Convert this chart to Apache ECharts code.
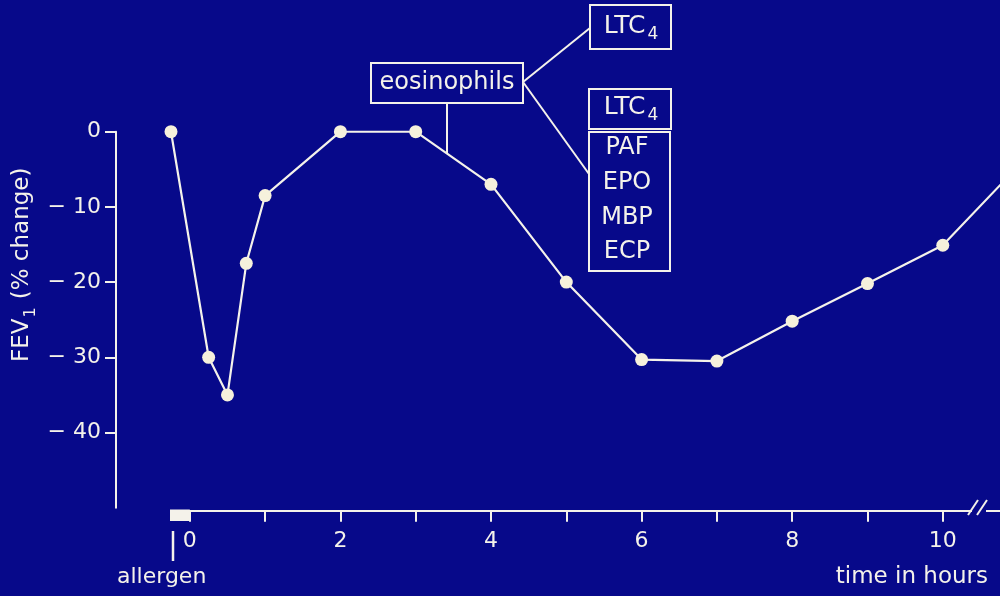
<!DOCTYPE html>
<html><head><meta charset="utf-8">
<script src="https://cdn.jsdelivr.net/npm/echarts@6/dist/echarts.min.js"></script>
<style>html,body{margin:0;padding:0;background:#07098a;}#c{width:1000px;height:596px;}</style>
</head><body><div id="c"></div>
<script>
// ---- data ----
const hours = [-0.25, 0.25, 0.5, 0.75, 1, 2, 3, 4, 5, 6, 7, 8, 9, 10, 11];
const fev1Change = [0, -30, -35, -17.5, -8.5, 0, 0, -7, -20, -30.3, -30.5, -25.2, -20.2, -15.1, -4.6];
const xTickValues = [0, 1, 2, 3, 4, 5, 6, 7, 8, 9, 10];
const xLabelValues = [0, 2, 4, 6, 8, 10];
const yTickValues = [0, -10, -20, -30, -40];
const allergenPeriod = [-0.25, 0];
const mediatorsTop = ['LTC', '4'];
const mediatorsList = ['PAF', 'EPO', 'MBP', 'ECP'];

const BG = '#07098a';
const FG = '#f4f2ea';
const FONT = '"DejaVu Sans", sans-serif';

const chart = echarts.init(document.getElementById('c'), null, {renderer: 'canvas'});

const seriesData = hours.map((h, i) => [h, fev1Change[i]]);

chart.setOption({
  backgroundColor: BG,
  animation: false,
  grid: {left: 171, right: 0, top: 131.7, bottom: 88.3, containLabel: false},
  xAxis: {
    type: 'value', min: -0.25, max: 10.76, offset: 3,
    axisLine: {onZero: false, lineStyle: {color: FG, width: 2}},
    axisTick: {show: true, length: 11, lineStyle: {color: FG, width: 2}, customValues: xTickValues},
    axisLabel: {color: FG, fontSize: 22, fontFamily: FONT, margin: 20, customValues: xLabelValues},
    splitLine: {show: false}
  },
  yAxis: {
    type: 'value', min: -50, max: 0, offset: 55,
    axisLine: {show: true, onZero: false, lineStyle: {color: FG, width: 2}},
    axisTick: {show: true, length: 11, lineStyle: {color: FG, width: 2}, customValues: yTickValues},
    axisLabel: {color: FG, fontSize: 22, fontFamily: FONT, margin: 15, customValues: yTickValues,
      formatter: v => v === 0 ? '0' : '\u2212 ' + Math.abs(v)},
    splitLine: {show: false}
  },
  series: [{
    type: 'line', data: seriesData, clip: true,
    symbol: 'circle', symbolSize: 13,
    lineStyle: {color: FG, width: 2.2},
    itemStyle: {color: '#f6f1dc', borderWidth: 0}
  }]
});

// ---- annotations ----
const ctx = document.createElement('canvas').getContext('2d');
function tw(text, size) { ctx.font = size + 'px ' + FONT; return ctx.measureText(text).width; }

// anchor on the curve under the eosinophils box
const anchorX = 447;
let anchorY = 152;
for (let i = 0; i < seriesData.length - 1; i++) {
  const a = chart.convertToPixel({seriesIndex: 0}, seriesData[i]);
  const b = chart.convertToPixel({seriesIndex: 0}, seriesData[i + 1]);
  if (a[0] <= anchorX && b[0] >= anchorX) { anchorY = a[1] + (b[1] - a[1]) * (anchorX - a[0]) / (b[0] - a[0]); break; }
}
const pA = chart.convertToPixel({seriesIndex: 0}, [allergenPeriod[0], 0])[0];
const p0 = chart.convertToPixel({seriesIndex: 0}, [allergenPeriod[1], 0])[0];

const strokeStyle = {stroke: FG, lineWidth: 2, fill: null};
function ltc(cx, cy) {
  const s1 = 25, s2 = 17;
  const w1 = tw(mediatorsTop[0], s1), w2 = tw(mediatorsTop[1], s2);
  const left = cx - (w1 + w2) / 2;
  return [
    {type: 'text', style: {text: mediatorsTop[0], x: left, y: cy, fill: FG, font: s1 + 'px ' + FONT, textAlign: 'left', textVerticalAlign: 'middle'}},
    {type: 'text', style: {text: mediatorsTop[1], x: left + w1 + 2, y: cy + 9, fill: FG, font: s2 + 'px ' + FONT, textAlign: 'left', textVerticalAlign: 'middle'}}
  ];
}

// y axis name with subscript
const nSize = 23, subSize = 16;
const wFEV = tw('FEV', nSize), wSub = tw('1', subSize);
const yName = {
  type: 'group', x: 22, y: 362, rotation: Math.PI / 2,
  children: [
    {type: 'text', style: {text: 'FEV', x: 0, y: 0, fill: FG, font: nSize + 'px ' + FONT, textAlign: 'left', textVerticalAlign: 'middle'}},
    {type: 'text', style: {text: '1', x: wFEV + 1, y: 9, fill: FG, font: subSize + 'px ' + FONT, textAlign: 'left', textVerticalAlign: 'middle'}},
    {type: 'text', style: {text: '(% change)', x: wFEV + wSub + 9, y: 0, fill: FG, font: nSize + 'px ' + FONT, textAlign: 'left', textVerticalAlign: 'middle'}}
  ]
};

const elements = [
  yName,
  // eosinophils box
  {type: 'rect', shape: {x: 371, y: 63, width: 152, height: 40}, style: strokeStyle},
  {type: 'text', style: {text: 'eosinophils', x: 447, y: 83, fill: FG, font: '24px ' + FONT, textAlign: 'center', textVerticalAlign: 'middle'}},
  {type: 'line', shape: {x1: anchorX, y1: 103, x2: anchorX, y2: anchorY}, style: {stroke: FG, lineWidth: 2}},
  // connectors
  {type: 'line', shape: {x1: 523, y1: 82, x2: 590, y2: 28}, style: {stroke: FG, lineWidth: 2}},
  {type: 'line', shape: {x1: 523, y1: 82, x2: 589, y2: 174}, style: {stroke: FG, lineWidth: 2}},
  // top LTC4 box
  {type: 'rect', shape: {x: 590, y: 5, width: 81, height: 44}, style: strokeStyle},
  ...ltc(630, 26),
  // lower LTC4 box
  {type: 'rect', shape: {x: 589, y: 89, width: 82, height: 40}, style: strokeStyle},
  ...ltc(630, 107),
  // mediator list box
  {type: 'rect', shape: {x: 589, y: 132, width: 81, height: 139}, style: strokeStyle},
  ...mediatorsList.map((t, i) => ({type: 'text', style: {text: t, x: 627, y: 148 + i * 34.7, fill: FG, font: '24px ' + FONT, textAlign: 'center', textVerticalAlign: 'middle'}})),
  // allergen exposure block
  {type: 'rect', shape: {x: pA - 1, y: 509.5, width: p0 - pA + 1, height: 11.5}, style: {fill: FG}, z: 100},
  {type: 'line', shape: {x1: 173, y1: 531, x2: 173, y2: 561}, style: {stroke: FG, lineWidth: 2.5}},
  {type: 'text', style: {text: 'allergen', x: 117, y: 577, fill: FG, font: '22px ' + FONT, textAlign: 'left', textVerticalAlign: 'middle'}},
  {type: 'text', style: {text: 'time in hours', x: 988, y: 577, fill: FG, font: '23px ' + FONT, textAlign: 'right', textVerticalAlign: 'middle'}},
  // axis break
  {type: 'rect', shape: {x: 972, y: 503, width: 14, height: 14}, style: {fill: BG}, z: 100},
  {type: 'line', shape: {x1: 968, y1: 515, x2: 978, y2: 500}, style: {stroke: FG, lineWidth: 2}, z: 101},
  {type: 'line', shape: {x1: 977, y1: 515, x2: 987, y2: 500}, style: {stroke: FG, lineWidth: 2}, z: 101}
];

chart.setOption({graphic: {elements: elements}});
</script>
</body></html>
